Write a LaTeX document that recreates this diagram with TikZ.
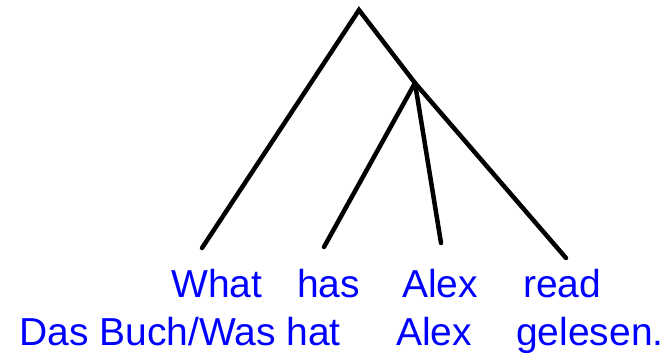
\documentclass[tikz,border=0pt]{standalone}
\usepackage{fontspec}
\setmainfont{Liberation Sans}
\begin{document}
\begin{tikzpicture}[x=1pt,y=-1pt,
  branch/.style={line width=4.5pt,line cap=round,black},
  word/.style={inner sep=0pt,anchor=base west,text=blue,font=\fontsize{39}{42}\selectfont}]
\useasboundingbox (0,0) rectangle (671,357);
\coordinate (root) at (359,10);
\coordinate (mid) at (415,83);
\coordinate (lwhat) at (202,248);
\coordinate (lhas) at (324,247);
\coordinate (lalex) at (441,243);
\coordinate (lread) at (566,258);
\draw[branch] (lwhat) -- (root) -- (mid);
\draw[branch] (lhas) -- (mid) -- (lread);
\draw[branch] (mid) -- (lalex);
\node[word] (what) at (171,297) {What};
\node[word] (has) at (297,297) {has};
\node[word] (alex) at (402,297) {Alex};
\node[word] (read) at (523,297) {read};
\node[word] (dasbuch) at (19,345) {Das Buch/Was hat};
\node[word] (alex2) at (396,345) {Alex};
\node[word] (gelesen) at (516,345) {gelesen.};
\end{tikzpicture}
\end{document}
